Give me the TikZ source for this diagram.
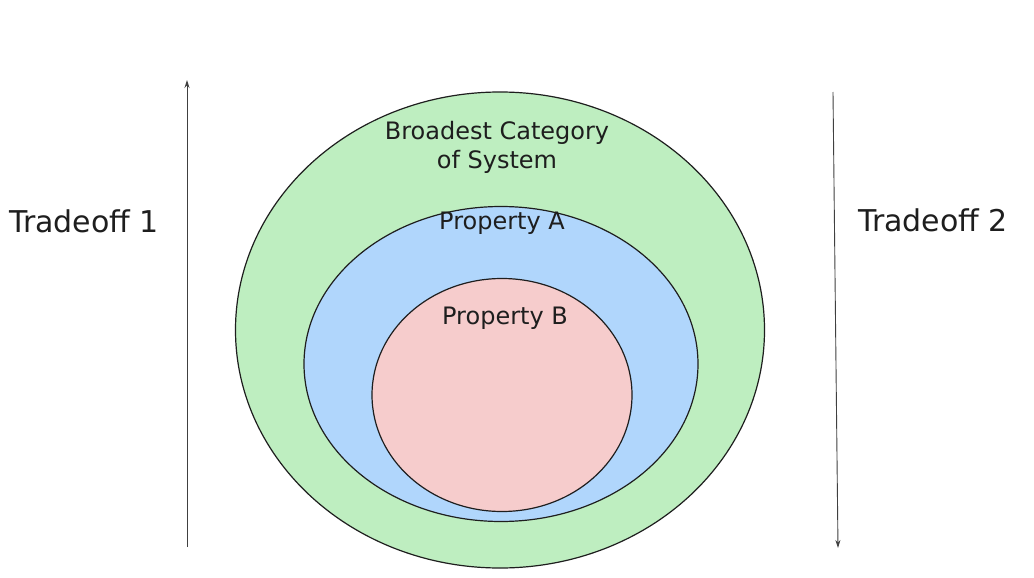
\documentclass[tikz,border=0pt]{standalone}
\usepackage{fontspec}
\setmainfont{DejaVu Sans}
\usetikzlibrary{shapes.geometric,arrows.meta}
\definecolor{verde}{RGB}{190,238,192}
\definecolor{azul}{RGB}{176,214,252}
\definecolor{rosa}{RGB}{246,204,204}
\definecolor{tinta}{RGB}{30,30,30}
\begin{document}
\begin{tikzpicture}[x=1pt, y=-1pt,
        zona/.style={ellipse, draw=tinta, line width=1.2pt, inner sep=0pt},
        rotulo/.style={text=tinta, font=\fontsize{24}{29}\selectfont, align=center},
        lado/.style={text=tinta, font=\fontsize{30}{34}\selectfont},
        seta/.style={draw=tinta!85, line width=0.9pt, -{Stealth[length=8pt, width=5pt]}}]
    \useasboundingbox[fill=white] (0,0) rectangle (1034,578);
    % desenhar as tres elipses encaixadas
    \node[zona, fill=verde, minimum width=529pt, minimum height=476pt] (amplo) at (500,330) {};
    \node[zona, fill=azul, minimum width=394pt, minimum height=315pt] (propA) at (501,364) {};
    \node[zona, fill=rosa, minimum width=260pt, minimum height=233pt] (propB) at (502,395) {};
    % escrever os rotulos das elipses
    \node[rotulo] (tAmplo) at (497,147) {Broadest Category\\of System};
    \node[rotulo] (tA) at (502,223) {Property A};
    \node[rotulo] (tB) at (505,318) {Property B};
    % escrever os dois compromissos
    \node[lado] (troca1) at (84,221) {Tradeoff 1};
    \node[lado] (troca2) at (933,220) {Tradeoff 2};
    % desenhar as setas laterais
    \coordinate (e0) at (187,547);
    \coordinate (e1) at (187,80);
    \coordinate (d0) at (833,92);
    \coordinate (d1) at (838,548);
    \draw[seta] (e0) -- (e1);
    \draw[seta] (d0) -- (d1);
\end{tikzpicture}
\end{document}
